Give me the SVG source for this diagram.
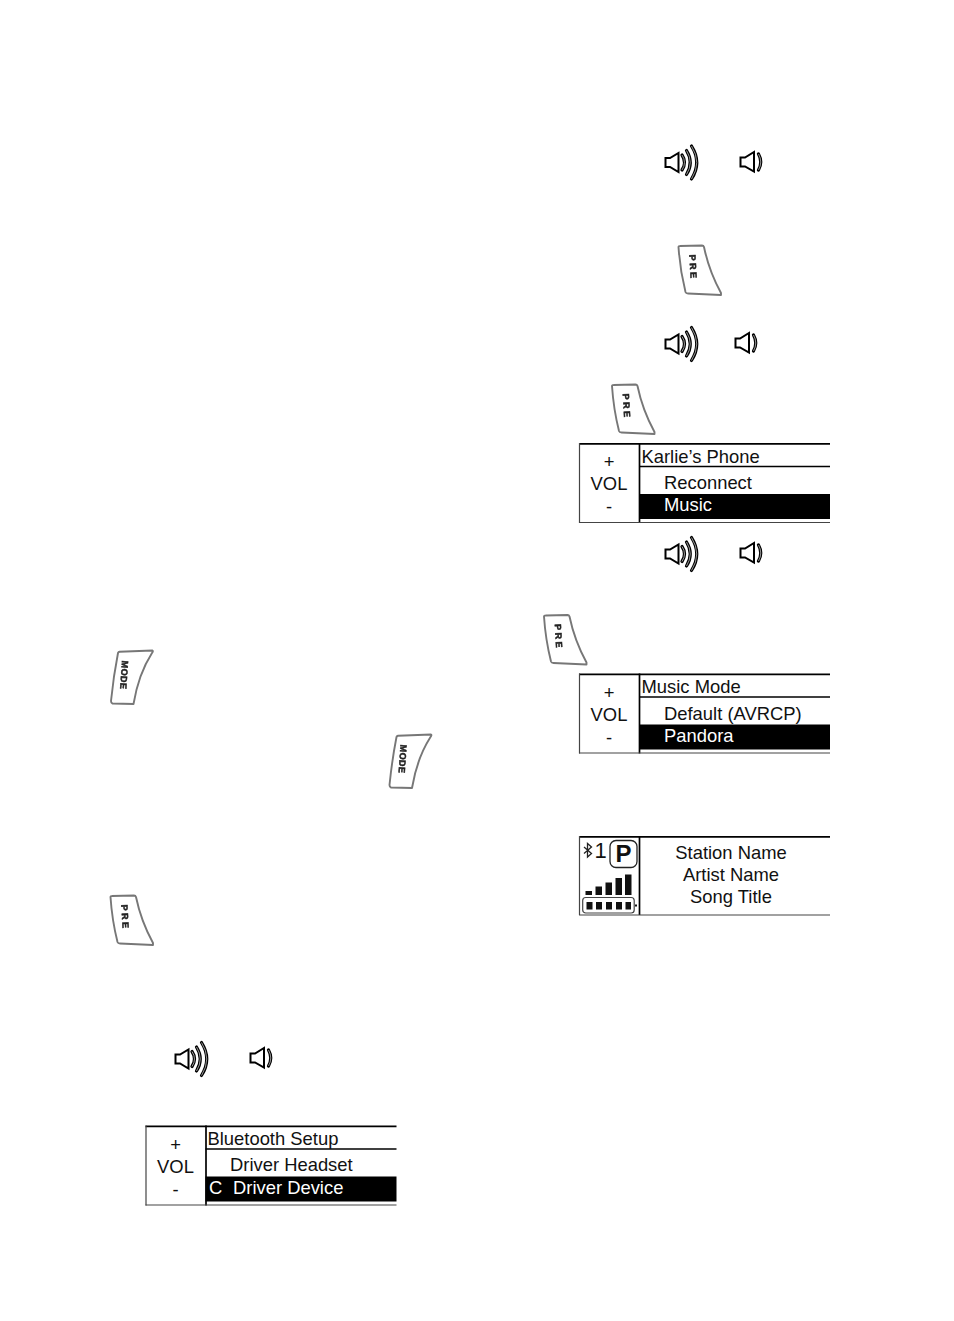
<svg xmlns="http://www.w3.org/2000/svg" width="954" height="1321" viewBox="0 0 954 1321">
<style>
text{font-family:"Liberation Sans",Arial,sans-serif;fill:#111}
.t{font-size:18.4px}
.w{font-size:18.4px;fill:#fff}
.c{font-size:18.4px;text-anchor:middle}
.btn{fill:#fff;stroke:#777;stroke-width:1.9;stroke-linejoin:round}
.lab{font-size:9px;font-weight:bold;fill:#222;stroke:#222;stroke-width:0.5;text-anchor:middle}
.sp{fill:none;stroke:#000;stroke-width:2;stroke-linejoin:miter}
.wv{fill:none;stroke:#000;stroke-width:3.200;stroke-linecap:round}
.wi{fill:none;stroke:#bbb;stroke-width:0.800}
.ln{stroke:#000;stroke-width:1.700;fill:none}
.ln1{stroke:#444;stroke-width:1.200;fill:none}
</style>
<defs>
<filter id="soft" x="-20%" y="-20%" width="140%" height="140%"><feGaussianBlur stdDeviation="0.65"/></filter>
<g id="bigSpeaker">
<path class="sp" d="M0.500,-4.500 L5,-4.500 L13.500,-9.500 L13.500,9.500 L5,4.500 L0.500,4.500 Z"/>
<path class="wv" d="M17,-7.500 Q22,0 17,7.500"/>
<path class="wi" d="M17,-7.500 Q22,0 17,7.500"/>
<path class="wv" d="M21.500,-12 Q29,0 21.500,12"/>
<path class="wi" d="M21.500,-12 Q29,0 21.500,12"/>
<path class="wv" d="M26.500,-16.500 Q37,0 26.500,16.500"/>
<path class="wi" d="M26.500,-16.500 Q37,0 26.500,16.500"/>
</g>
<g id="smallSpeaker">
<path class="sp" d="M0.500,-4.500 L5,-4.500 L14,-10 L14,9.500 L5,4.500 L0.500,4.500 Z"/>
<path class="wv" d="M18.500,-8 Q23,0 18.500,8"/>
<path class="wi" d="M18.500,-8 Q23,0 18.500,8"/>
</g>
<g id="prx" filter="url(#soft)">
<path class="btn" d="M0.500,2 Q0.500,1 2,1 L24,0.500 Q25.500,0.500 26,2 Q31,26 43,48 L43,50 L10,48.500 Q8,48.500 7.500,47 Q2,25 0.500,2 Z"/>
<text class="lab" transform="translate(15,22.500) rotate(87)" y="3" letter-spacing="2.500">PRE</text>
</g>
<g id="mode" filter="url(#soft)">
<path class="btn" d="M9,1.800 L42,0.500 Q43,1 41.500,3 Q28,24 23,54 L2,53.500 Q0.500,53 0.500,51 Q3,26 7.500,3 Q8,2 9,1.800 Z"/>
<text class="lab" transform="translate(13.500,25) rotate(94)" y="3" letter-spacing="0.400">MODE</text>
</g>
<g id="panelFrame">
<path class="ln" d="M0,0.800 H251"/>
<path class="ln1" d="M0.500,0 V80"/>
<path class="ln" d="M60.500,0 V80"/>
<path class="ln1" d="M0,79.500 H251"/>
<path class="ln" d="M60,23.500 H251"/>
<rect x="60" y="51" width="191" height="25" fill="#000"/>
<text class="c" x="30" y="25">+</text>
<text class="c" x="30" y="47">VOL</text>
<text class="c" x="30" y="70">-</text>
</g>
</defs>

<g id="connectors"></g>

<g id="speakers">
<use href="#bigSpeaker" x="665" y="162.500"/>
<use href="#smallSpeaker" x="740" y="162"/>
<use href="#bigSpeaker" x="665" y="344"/>
<use href="#smallSpeaker" x="735" y="343"/>
<use href="#bigSpeaker" x="665" y="554"/>
<use href="#smallSpeaker" x="740" y="553"/>
<use href="#bigSpeaker" x="175" y="1059"/>
<use href="#smallSpeaker" x="250" y="1058"/>
</g>

<g id="buttons">
<use href="#prx" x="678" y="245"/>
<use href="#prx" x="611.500" y="384"/>
<use href="#prx" x="543.500" y="614.500"/>
<use href="#prx" x="110" y="895"/>
<use href="#mode" x="110.500" y="650"/>
<use href="#mode" x="389" y="734"/>
</g>

<g id="panel-karlie" transform="translate(579,443)">
<use href="#panelFrame"/>
<text class="t" x="62.500" y="19.500">Karlie’s Phone</text>
<text class="t" x="85" y="46">Reconnect</text>
<text class="w" x="85" y="68">Music</text>
</g>

<g id="panel-music" transform="translate(579,673.500)">
<use href="#panelFrame"/>
<text class="t" x="62.500" y="19">Music Mode</text>
<text class="t" x="85" y="46">Default (AVRCP)</text>
<text class="w" x="85" y="68.500">Pandora</text>
</g>

<g id="panel-bluetooth" transform="translate(145.500,1125.500)">
<use href="#panelFrame"/>
<text class="t" x="62" y="19">Bluetooth Setup</text>
<text class="t" x="84.500" y="45.500">Driver Headset</text>
<text class="w" x="63.500" y="68.500">C</text>
<text class="w" x="87.500" y="68.500">Driver Device</text>
</g>

<g id="panel-pandora" transform="translate(579,836)">
<path class="ln" d="M0,0.800 H251"/>
<path class="ln1" d="M0.500,0 V79"/>
<path class="ln" d="M60.500,0 V79"/>
<path class="ln1" d="M0,79 H251"/>
<text class="c" x="152" y="23">Station Name</text>
<text class="c" x="152" y="45">Artist Name</text>
<text class="c" x="152" y="67">Song Title</text>
<path fill="none" stroke="#222" stroke-width="1.300" d="M5,11 L12.500,17.500 L8.500,21 V7.500 L12.500,11 L5,17.500"/>
<text x="15.500" y="22" style="font-size:22px">1</text>
<rect x="31" y="4.500" width="27" height="27" rx="6" fill="#fff" stroke="#222" stroke-width="1.300"/>
<text x="44.500" y="26" text-anchor="middle" style="font-family:'Liberation Sans',sans-serif;font-size:24px;font-weight:bold">P</text>
<path fill="#111" d="M6.500,55 h6.500 v4 h-6.500z M16.500,50.500 h6.500 v8.500 h-6.500z M26.500,46.500 h6.500 v12.500 h-6.500z M36.500,42 h6.500 v17 h-6.500z M46,38.500 h6.500 v20.500 h-6.500z"/>
<rect x="3.700" y="61.500" width="51.500" height="15.500" rx="3" fill="#fff" stroke="#444" stroke-width="1.200"/>
<path fill="#111" d="M7.500,66 h6 v7.500 h-6z M17,66 h6 v7.500 h-6z M27,66 h6 v7.500 h-6z M37,66 h6 v7.500 h-6z M46.500,66 h5.500 v7.500 h-5.500z M56,68.500 h2 v2 h-2z"/>
</g>
</svg>
